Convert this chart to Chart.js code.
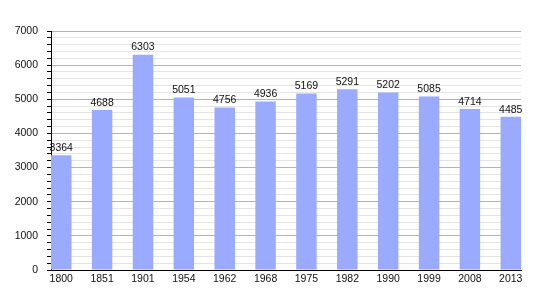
<!DOCTYPE html>
<html>
<head>
<meta charset="utf-8">
<script src="https://cdn.jsdelivr.net/npm/chart.js@4/dist/chart.umd.min.js"></script>
<style>
  html, body { margin: 0; padding: 0; background: #fff; }
  #wrap { width: 550px; height: 300px; }
</style>
</head>
<body>
<div id="wrap"><canvas id="c" width="550" height="300"></canvas></div>
<script>
const years = ['1800','1851','1901','1954','1962','1968','1975','1982','1990','1999','2008','2013'];
const population = [3364, 4688, 6303, 5051, 4756, 4936, 5169, 5291, 5202, 5085, 4714, 4485];
const yMin = 0;
const yMax = 7000;
const yMinorStep = 200;
const yMajorStep = 1000;

const points = population.map((v, i) => ({ x: i, y: v }));
const FONT = 'Liberation Sans, Arial, sans-serif';

const valueLabels = {
  id: 'valueLabels',
  afterDatasetsDraw(chart) {
    const ctx = chart.ctx;
    const meta = chart.getDatasetMeta(0);
    ctx.save();
    ctx.font = '10.5px ' + FONT;
    ctx.fillStyle = '#111';
    ctx.textAlign = 'center';
    ctx.textBaseline = 'bottom';
    meta.data.forEach((el, i) => {
      ctx.fillText(String(population[i]), el.x, el.y - 2);
    });
    ctx.restore();
  }
};

new Chart(document.getElementById('c'), {
  type: 'bar',
  data: {
    datasets: [{
      data: points,
      backgroundColor: '#99aaff',
      borderWidth: 0,
      categoryPercentage: 1,
      barPercentage: 0.5
    }]
  },
  options: {
    responsive: false,
    animation: false,
    devicePixelRatio: 1,
    layout: { padding: { left: 0, right: 29, top: 31, bottom: 0 } },
    plugins: { legend: { display: false }, tooltip: { enabled: false } },
    scales: {
      x: {
        type: 'linear',
        offset: false,
        min: -0.25,
        max: 11.25,
        afterFit: s => { s.height = 30; },
        grid: { display: true, offset: false, drawOnChartArea: false, drawTicks: false, color: 'rgba(0,0,0,0)' },
        border: { display: true, color: '#000', width: 1 },
        ticks: {
          stepSize: 1,
          includeBounds: false,
          autoSkip: false,
          maxRotation: 0,
          padding: 3,
          color: '#111',
          font: { family: FONT, size: 10.5 },
          callback: v => (Number.isInteger(v) && years[v] !== undefined) ? years[v] : ''
        }
      },
      y: {
        min: yMin,
        max: yMax,
        afterFit: s => { s.width = 51; },
        grid: {
          color: c => (c.tick && c.tick.value % yMajorStep === 0) ? '#b4b4b4' : '#e4e4e4',
          tickColor: '#000',
          tickLength: 4,
          lineWidth: 1
        },
        border: { display: true, color: '#000', width: 1 },
        ticks: {
          stepSize: yMinorStep,
          autoSkip: false,
          padding: 9,
          color: '#111',
          font: { family: FONT, size: 10.5 },
          callback: v => (v % yMajorStep === 0) ? String(v) : ''
        }
      }
    }
  },
  plugins: [valueLabels]
});
</script>
</body>
</html>
